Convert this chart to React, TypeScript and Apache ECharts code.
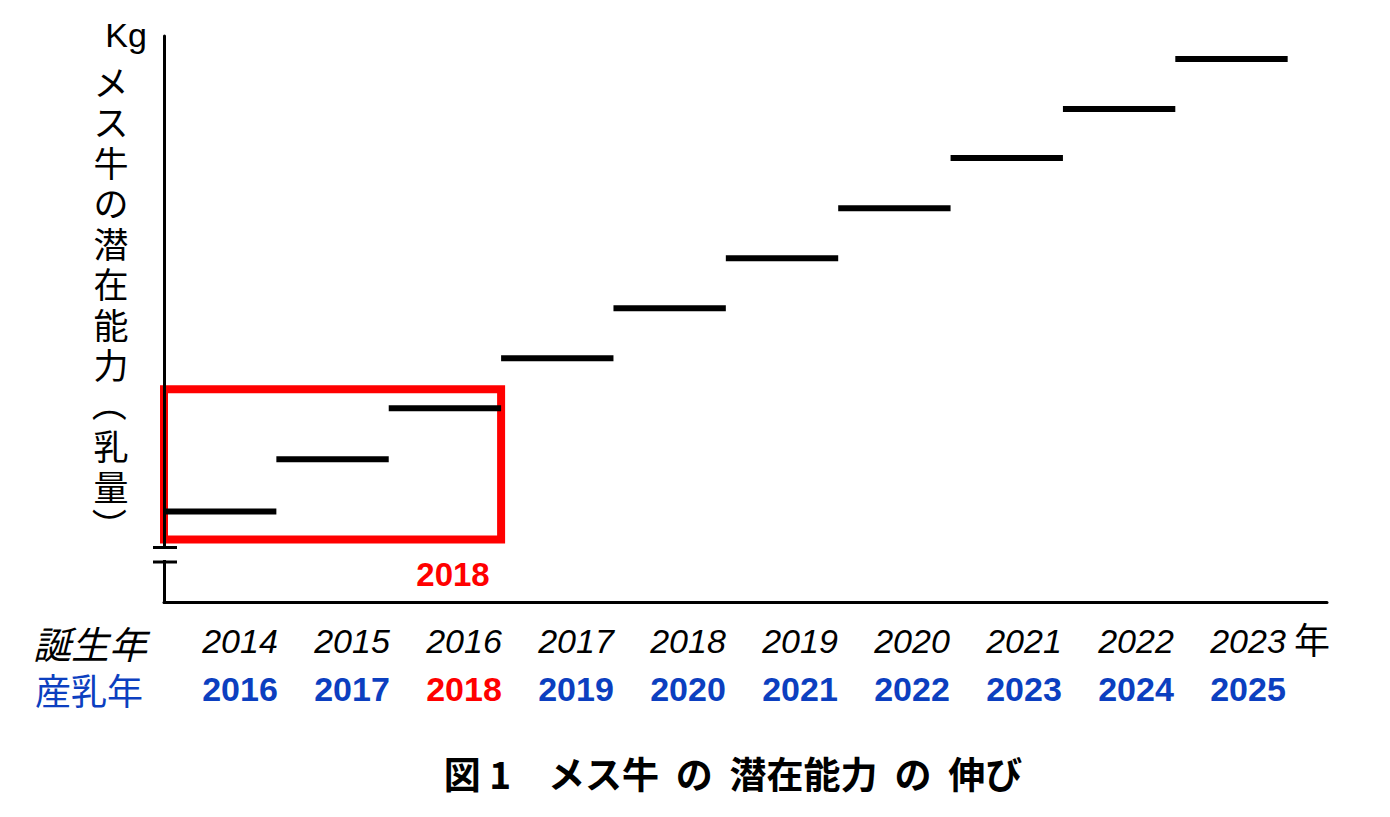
import React, { useEffect, useRef } from 'react';
import * as echarts from 'echarts';

const birthYears = ['2014', '2015', '2016', '2017', '2018', '2019', '2020', '2021', '2022', '2023'];
const milkYears = ['2016', '2017', '2018', '2019', '2020', '2021', '2022', '2023', '2024', '2025'];
const potential = [1.82, 2.86, 3.88, 4.88, 5.88, 6.88, 7.88, 8.88, 9.86, 10.86];
const highlightIndex = 2;
const highlightBox = { x0: 0, x1: 3, y0: 1.26, y1: 4.26 };
const yTitleChars = ['メ', 'ス', '牛', 'の', '潜', '在', '能', '力', '（', '乳', '量', '）'];

const CJK = '"Noto Sans CJK JP", "Noto Sans CJK SC", sans-serif';
const LAT = '"Liberation Sans", Arial, sans-serif';
const BLUE = '#0c3fc0';
const RED = '#ff0000';

export default function App() {
  const ref = useRef<HTMLDivElement>(null);

  useEffect(() => {
    document.body.style.margin = '0';
    if (!ref.current) return;
    const chart = echarts.init(ref.current, null, { renderer: 'svg' });

    const segData = potential.map((v, i) => [i, v]);

    const titleChars = yTitleChars.map((ch, k) => {
      const isParen = ch === '（' || ch === '）';
      return {
        type: 'text', z: 100, x: 111, y: 80 + 40.5 * k,
        rotation: isParen ? -Math.PI / 2 : 0,
        style: { text: ch, fontFamily: CJK, fontSize: 35, lineHeight: 40, fill: '#000', align: 'center', verticalAlign: 'middle' },
      };
    });

    const option: any = {
      animation: false,
      backgroundColor: '#ffffff',
      grid: [
        { left: 164, right: 63, top: 36, bottom: 214.5 },
        { left: 184, right: 86, top: 36, bottom: 214.5 },
      ],
      xAxis: [
        {
          type: 'value', gridIndex: 0, min: 0, max: 10.35, z: 10,
          axisLine: { show: true, lineStyle: { color: '#000', width: 3 } },
          axisTick: { show: false }, axisLabel: { show: false }, splitLine: { show: false },
        },
        {
          type: 'category', gridIndex: 1, data: birthYears, boundaryGap: true,
          axisLine: { show: false }, axisTick: { show: false }, splitLine: { show: false },
          axisLabel: {
            interval: 0,
            margin: 14.5,
            formatter: (value: string, index: number) => {
              const m = milkYears[index];
              return `{a|${value}}\n{${index === highlightIndex ? 'c' : 'b'}|${m}}`;
            },
            rich: {
              a: { fontFamily: LAT, fontStyle: 'italic', fontSize: 34, color: '#000', lineHeight: 48, align: 'center' },
              b: { fontFamily: LAT, fontWeight: 'bold', fontSize: 34, color: BLUE, lineHeight: 48, align: 'center' },
              c: { fontFamily: LAT, fontWeight: 'bold', fontSize: 34, color: RED, lineHeight: 48, align: 'center' },
            },
          },
        },
      ],
      yAxis: [
        {
          type: 'value', gridIndex: 0, min: 0, max: 11.32, z: 10,
          axisLine: { show: true, lineStyle: { color: '#000', width: 3 } },
          axisTick: { show: false }, axisLabel: { show: false }, splitLine: { show: false },
        },
        {
          type: 'value', gridIndex: 1, min: 0, max: 1, show: false,
        },
      ],
      series: [
        {
          type: 'custom',
          xAxisIndex: 0, yAxisIndex: 0,
          data: segData,
          z: 2,
          renderItem: (params: any, api: any) => {
            const x = api.value(0);
            const v = api.value(1);
            const s = api.coord([x, v]);
            const e = api.coord([x + 1, v]);
            return {
              type: 'line',
              shape: { x1: s[0], y1: s[1], x2: e[0], y2: e[1] },
              style: { stroke: '#000', lineWidth: 6, lineCap: 'butt' },
            };
          },
        },
        {
          type: 'line',
          xAxisIndex: 0, yAxisIndex: 0,
          data: [],
          z: 5,
          markArea: {
            silent: true,
            itemStyle: { color: 'rgba(0,0,0,0)', borderColor: RED, borderWidth: 8 },
            label: { show: false },
            data: [[
              { coord: [highlightBox.x0, highlightBox.y1] },
              { coord: [highlightBox.x1, highlightBox.y0] },
            ]],
          },
        },
        {
          type: 'line', xAxisIndex: 1, yAxisIndex: 1, data: [], silent: true,
        },
      ],
      graphic: [
        // axis break
        { type: 'rect', z: 100, shape: { x: 157, y: 549, width: 14, height: 11 }, style: { fill: '#fff' } },
        { type: 'line', z: 101, shape: { x1: 153, y1: 547.5, x2: 177, y2: 547.5 }, style: { stroke: '#000', lineWidth: 3 } },
        { type: 'line', z: 101, shape: { x1: 153, y1: 562, x2: 177, y2: 562 }, style: { stroke: '#000', lineWidth: 3 } },
        {
          type: 'text', z: 100, x: 126, y: 35,
          style: { text: 'Kg', fontFamily: LAT, fontSize: 34, fill: '#000', align: 'center', verticalAlign: 'middle' },
        },
        ...titleChars,
        {
          type: 'text', z: 100, x: 453, y: 574,
          style: { text: milkYears[highlightIndex], fontFamily: LAT, fontWeight: 'bold', fontSize: 33, fill: RED, align: 'center', verticalAlign: 'middle' },
        },
        {
          type: 'text', z: 100, x: 90, y: 642,
          style: { text: '誕生年', fontFamily: CJK, fontStyle: 'italic', fontSize: 38, fill: '#000', align: 'center', verticalAlign: 'middle' },
        },
        {
          type: 'text', z: 100, x: 89, y: 689,
          style: { text: '産乳年', fontFamily: CJK, fontSize: 36, fill: BLUE, align: 'center', verticalAlign: 'middle' },
        },
        {
          type: 'text', z: 100, x: 1312, y: 638,
          style: { text: '年', fontFamily: CJK, fontSize: 36, fill: '#000', align: 'center', verticalAlign: 'middle' },
        },
        {
          type: 'text', z: 100, x: 733, y: 773,
          style: { text: '図 1　メス牛  の  潜在能力  の  伸び', fontFamily: CJK, fontWeight: 'bold', fontSize: 37, fill: '#000', align: 'center', verticalAlign: 'middle' },
        },
      ],
    };

    chart.setOption(option);
    return () => chart.dispose();
  }, []);

  return <div ref={ref} style={{ width: 1390, height: 817 }} />;
}
